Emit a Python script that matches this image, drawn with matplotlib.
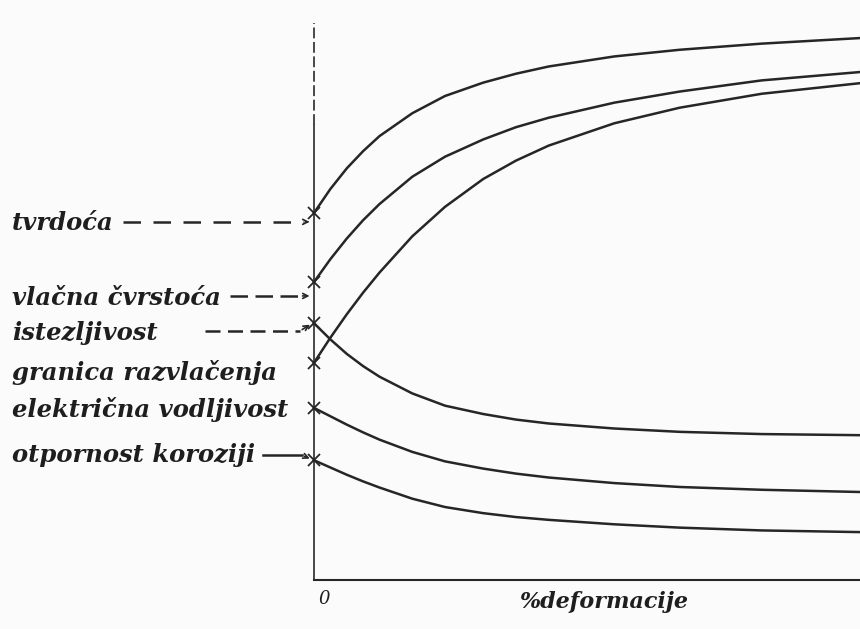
import matplotlib
matplotlib.use('Agg')
import matplotlib.pyplot as plt

# % deformacije (0 = nedeformirano stanje)
deformacija = [0, 3, 6, 9, 12, 18, 24, 31, 37, 43, 55, 67, 82, 100]

# relativne vrijednosti svojstava (ocitano sa slike)
tvrdoca = [65.9, 70.2, 73.9, 77.0, 79.7, 83.8, 86.9, 89.3, 90.9, 92.2, 94.0, 95.2, 96.3, 97.3]
vlacna_cvrstoca = [53.5, 57.6, 61.3, 64.6, 67.5, 72.4, 76.0, 79.1, 81.3, 83.0, 85.7, 87.7, 89.7, 91.2]
granica_razvlacenja = [39.0, 43.5, 47.7, 51.6, 55.2, 61.7, 67.0, 72.0, 75.3, 78.0, 82.0, 84.8, 87.3, 89.2]
istezljivost = [46.1, 43.2, 40.6, 38.4, 36.5, 33.5, 31.3, 29.8, 28.8, 28.1, 27.2, 26.6, 26.2, 26.0]
elektricna_vodljivost = [30.9, 29.4, 27.9, 26.5, 25.2, 23.0, 21.3, 20.0, 19.1, 18.4, 17.4, 16.7, 16.2, 15.8]
otpornost_koroziji = [21.5, 20.2, 18.9, 17.7, 16.6, 14.6, 13.1, 12.0, 11.3, 10.8, 10.0, 9.4, 8.9, 8.6]

labels = ['tvrdoća', 'vlačna čvrstoća', 'istezljivost',
          'granica razvlačenja', 'električna vodljivost', 'otpornost koroziji']
krivulje = [tvrdoca, vlacna_cvrstoca, istezljivost,
            granica_razvlacenja, elektricna_vodljivost, otpornost_koroziji]

boja = '#262626'
bg = '#fbfbfb'

fig = plt.figure(figsize=(8.6, 6.29), dpi=100, facecolor=bg)
ax = fig.add_axes([0.3651, 0.0779, 0.6349, 0.8855], facecolor=bg)
ax.set_xlim(0, 100)
ax.set_ylim(0, 100)

# krivulje i pocetne tocke (x)
for y in krivulje:
    ax.plot(deformacija, y, color=boja, lw=1.8, solid_joinstyle='round', clip_on=False)
    ax.plot(0, y[0], marker='x', ms=8, mew=1.3, color=boja, clip_on=False, zorder=5)

# osi
for s in ['top', 'right', 'left']:
    ax.spines[s].set_visible(False)
ax.spines['bottom'].set_color(boja)
ax.spines['bottom'].set_linewidth(1.5)
ax.plot([0, 0], [0, 81.7], color='#3a3a3a', lw=1.3, clip_on=False)
ax.plot([0, 0], [81.7, 100], color='#3a3a3a', lw=1.3, ls=(0, (6, 2)), clip_on=False)
ax.set_xticks([])
ax.set_yticks([])

# nazivi svojstava lijevo
font = dict(family='DejaVu Serif', weight='bold', style='italic', size=17.5, color='#1e1e1e')
label_y = [0.6455, 0.5262, 0.4706, 0.4070, 0.3482, 0.2766]
for txt, yy in zip(labels, label_y):
    fig.text(0.014, yy, txt, ha='left', va='center', **font)

# isprekidane strelice prema osi
lk = dict(color=boja, lw=1.8, clip_on=False)
ax.plot([-35.0, -1.8], [64.3, 64.3], ls=(0, (7, 5)), **lk)
ax.plot([-15.4, -2.6], [51.0, 51.0], ls=(0, (7, 3)), **lk)
ax.plot([-20.0, -2.6], [44.7, 44.7], ls=(0, (6, 3)), **lk)
ax.plot([-9.3, -2.2], [22.4, 22.4], ls='-', **lk)
arr = dict(arrowstyle='->', color=boja, lw=1.2, mutation_scale=9)
ax.annotate('', xy=(-0.3, 64.3), xytext=(-2.0, 64.3), arrowprops=arr, annotation_clip=False)
ax.annotate('', xy=(-0.3, 51.0), xytext=(-2.6, 51.0), arrowprops=arr, annotation_clip=False)
ax.annotate('', xy=(-0.3, 46.1), xytext=(-2.6, 44.7), arrowprops=arr, annotation_clip=False)
ax.annotate('', xy=(-0.3, 21.6), xytext=(-2.2, 22.4), arrowprops=arr, annotation_clip=False)

# oznake osi x
ax.text(0.8, -3.5, '0', ha='left', va='center', family='DejaVu Serif',
        style='italic', size=13, color='#1e1e1e', clip_on=False)
font_x = dict(font, size=16)
ax.text(53, -3.9, '%deformacije', ha='center', va='center', clip_on=False, **font_x)

fig.savefig('out.png', dpi=100, facecolor=bg)
